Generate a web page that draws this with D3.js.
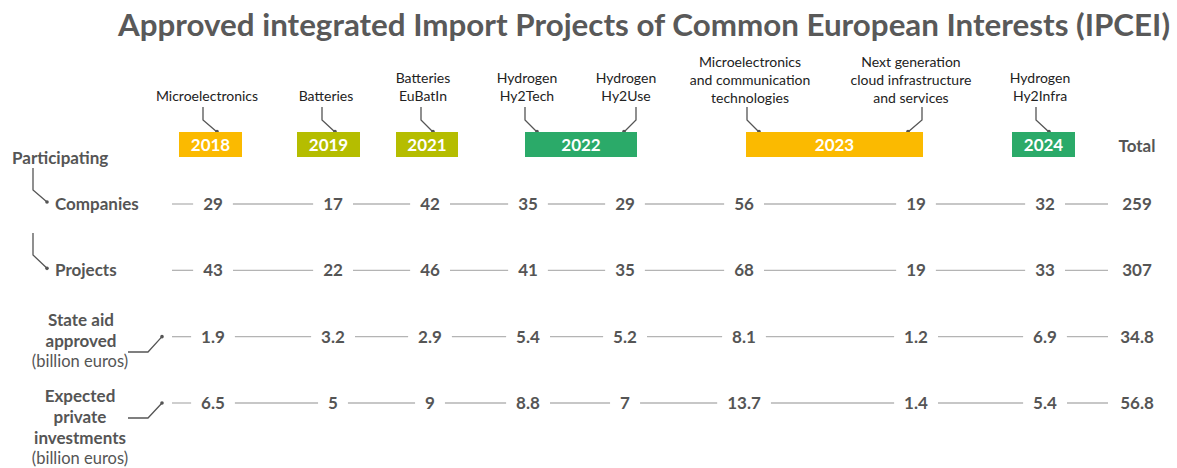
<!DOCTYPE html>
<html><head><meta charset="utf-8">
<script src="https://cdn.jsdelivr.net/npm/d3@7"></script>
<style>body{margin:0;background:#fff;} svg{display:block;font-family:Lato,'Open Sans',sans-serif;}</style>
</head><body><svg id="c" width="1177" height="468"></svg>
<script>
// ---------- data ----------
const projectIds = ["p2018","p2019","p2021","p2022a","p2022b","p2023a","p2023b","p2024"];
const projectLabels = [["Microelectronics"],["Batteries"],["Batteries","EuBatIn"],["Hydrogen","Hy2Tech"],["Hydrogen","Hy2Use"],["Microelectronics","and communication","technologies"],["Next generation","cloud infrastructure","and services"],["Hydrogen","Hy2Infra"]];
const projectYears = ["2018","2019","2021","2022","2022","2023","2023","2024"];
const years = ["2018","2019","2021","2022","2023","2024"];
const yearColors = ["#FBBA00","#B5BD00","#B5BD00","#2BAA69","#FBBA00","#2BAA69"];
const rowKeys = ["companies","projects","stateAid","private"];
const companies = [29,17,42,35,29,56,19,32];
const projectsCount = [43,22,46,41,35,68,19,33];
const stateAid = [1.9,3.2,2.9,5.4,5.2,8.1,1.2,6.9];
const privateInv = [6.5,5,9,8.8,7,13.7,1.4,5.4];
const totals = [259,307,34.8,56.8];
const title = "Approved integrated Import Projects of Common European Interests (IPCEI)";

// ---------- layout ----------
const svg = d3.select("#c");
const x = d3.scaleOrdinal().domain(projectIds.concat(["total"])).range([213,333,430,528,625,744,916,1045,1137]);
const y = d3.scalePoint().domain(rowKeys).range([204,403]);
const boxX = d3.scaleOrdinal().domain(years).range([[179,242],[297,360],[396,458],[525,637],[746,923],[1012,1075]]);
const labelX = d3.scaleOrdinal().domain(projectIds).range([207,326,423,527,626,750,911,1040]);
const connX = d3.scaleOrdinal().domain(projectIds).range([[203,217],[322,335],[421,433],[525,537],[636,624],[747,759],[922,908],[1036,1049]]);
const txt = "#555555", lineGray = "#b4b4b4";

// title
svg.append("text").attr("x", 644).attr("y", 36).attr("text-anchor","middle")
  .attr("font-size", 31).attr("font-weight", 700).attr("fill", "#595959").text(title)
  .attr("textLength", 1052).attr("lengthAdjust","spacingAndGlyphs");

// project labels + connectors
projectIds.forEach((id,i)=>{
  const lines = projectLabels[i];
  const base = lines.length === 3 ? 103 : 101;
  const g = svg.append("text").attr("text-anchor","middle").attr("font-size",14).attr("fill","#222");
  lines.forEach((l,j)=>{
    g.append("tspan").attr("x", labelX(id)).attr("y", base - (lines.length-1-j)*18).text(l);
  });
  const [cx, ex] = connX(id);
  svg.append("path").attr("d", `M${cx},107 L${cx},120 L${ex},132`).attr("fill","none").attr("stroke","#555").attr("stroke-width",1.3);
  svg.append("circle").attr("cx", ex).attr("cy", 131.5).attr("r", 1.8).attr("fill","#555");
});

// year boxes
years.forEach((yr,i)=>{
  const [x0,x1] = boxX(yr);
  svg.append("rect").attr("x",x0).attr("y",132).attr("width",x1-x0).attr("height",25).attr("fill",yearColors[i]);
  svg.append("text").attr("x",(x0+x1)/2).attr("y",150.5).attr("text-anchor","middle").attr("font-size",17)
    .attr("font-weight",700).attr("fill","#fff").text(yr);
});
svg.append("text").attr("x", x("total")).attr("y", 152).attr("text-anchor","middle").attr("font-size",17)
  .attr("font-weight",700).attr("fill",txt).text("Total");

// row labels
function boldText(xp, yp, s, anchor, size, weight){
  return svg.append("text").attr("x",xp).attr("y",yp).attr("text-anchor",anchor||"start").attr("font-size",size||17)
    .attr("font-weight",weight||700).attr("fill",txt).text(s);
}
boldText(12, 164, "Participating");
boldText(55, y("companies")+6, "Companies");
boldText(55, y("projects")+6, "Projects");
[["companies",168,190],["projects",233,255]].forEach(([k,a,b])=>{
  const yy = y(k)-2;
  svg.append("path").attr("d",`M33,${a} L33,${b} L47,${yy}`).attr("fill","none").attr("stroke","#555").attr("stroke-width",1.3);
  svg.append("circle").attr("cx",47).attr("cy",yy).attr("r",1.8).attr("fill","#555");
});
boldText(81, 326, "State aid", "middle");
boldText(81, 347, "approved", "middle");
boldText(80, 367, "(billion euros)", "middle", 16.5, 400);
boldText(80, 402, "Expected", "middle");
boldText(80, 423, "private", "middle");
boldText(80, 444, "investments", "middle");
boldText(80, 464, "(billion euros)", "middle", 16.5, 400);
[["stateAid",352],["private",418]].forEach(([k,hy])=>{
  const yy = y(k);
  svg.append("path").attr("d",`M128,${hy} L148,${hy} L162,${yy}`).attr("fill","none").attr("stroke","#555").attr("stroke-width",1.3);
  svg.append("circle").attr("cx",162).attr("cy",yy).attr("r",1.8).attr("fill","#555");
});

// value rows
const rows = [companies, projectsCount, stateAid, privateInv];
rowKeys.forEach((k,ri)=>{
  const vals = rows[ri].map((v,i)=>({id:projectIds[i], v}));
  vals.push({id:"total", v: totals[ri]});
  const yy = y(k);
  const lineG = svg.append("g");
  const texts = svg.selectAll(null).data(vals).enter().append("text")
    .attr("x", d=>x(d.id)).attr("y", yy+6).attr("text-anchor","middle")
    .attr("font-size",17).attr("font-weight",700).attr("fill",txt).text(d=>String(d.v));
  const boxes = texts.nodes().map(n=>{const b=n.getBBox(); return [b.x, b.x+b.width];});
  const gap = 10;
  const segs = [[172, boxes[0][0]-gap]];
  for(let i=1;i<boxes.length-1;i++) segs.push([boxes[i-1][1]+gap, boxes[i][0]-gap]);
  segs.push([boxes[boxes.length-2][1]+gap, 1108]);
  lineG.selectAll("line").data(segs).enter().append("line")
    .attr("x1",d=>d[0]).attr("x2",d=>d[1]).attr("y1",yy).attr("y2",yy)
    .attr("stroke",lineGray).attr("stroke-width",1.3);
});
</script></body></html>
